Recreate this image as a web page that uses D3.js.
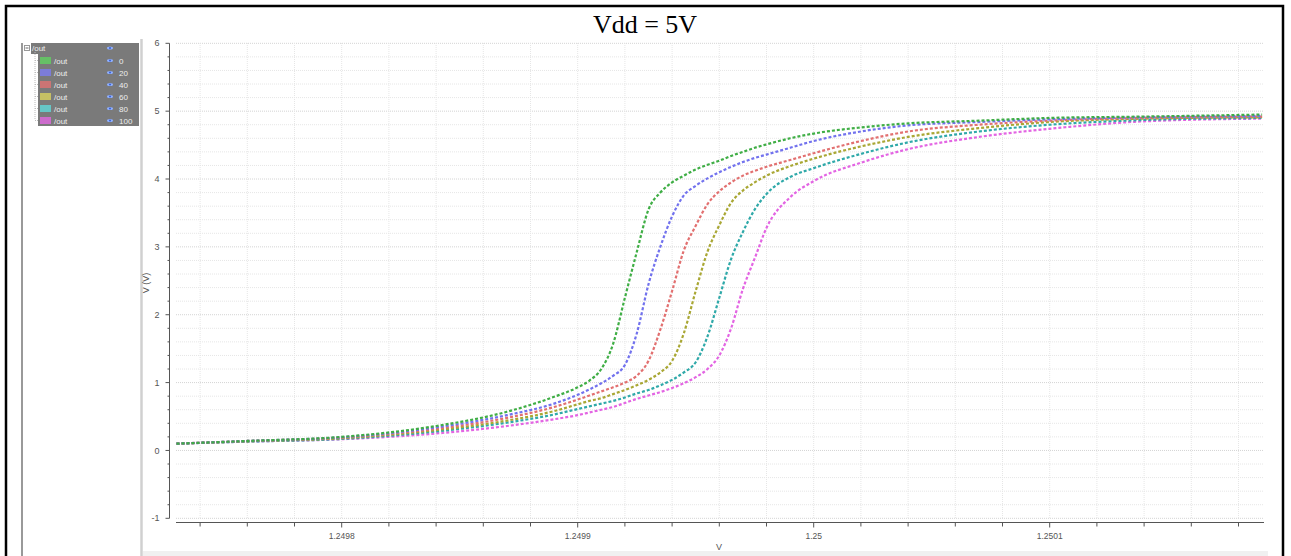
<!DOCTYPE html>
<html><head><meta charset="utf-8">
<script src="https://cdn.jsdelivr.net/npm/d3@7"></script>
<style>body{margin:0;background:#fff;}svg{display:block;}</style>
</head><body>
<svg id="c" width="1291" height="556"></svg>
<script>
// ---- data ----
const xVals = [1.24973,1.24976,1.24980,1.24984,1.24987,1.24989,1.24990,1.249905,1.24991,1.249915,1.24992,1.249925,1.24993,1.249935,1.24994,1.249945,1.24995,1.249955,1.24996,1.249965,1.24997,1.249975,1.24998,1.24999,1.25000,1.25002,1.25004,1.25007,1.25010,1.25014,1.25019];
const seriesNames = ["0","20","40","60","80","100"];
const out0   = [0.10,0.14,0.20,0.36,0.57,0.79,0.93,1.03,1.20,1.57,2.25,2.92,3.55,3.80,3.95,4.05,4.14,4.21,4.27,4.34,4.40,4.46,4.51,4.60,4.67,4.76,4.82,4.86,4.90,4.92,4.95];
const out20  = [0.10,0.14,0.195,0.34,0.52,0.69,0.82,0.90,0.99,1.10,1.26,1.72,2.45,3.00,3.45,3.76,3.90,4.01,4.10,4.18,4.25,4.31,4.36,4.46,4.56,4.70,4.79,4.84,4.88,4.91,4.93];
const out40  = [0.10,0.14,0.19,0.32,0.48,0.64,0.75,0.81,0.87,0.93,1.00,1.10,1.32,1.78,2.35,2.95,3.31,3.63,3.82,3.95,4.05,4.12,4.18,4.28,4.38,4.56,4.70,4.80,4.86,4.90,4.92];
const out60  = [0.10,0.135,0.18,0.30,0.44,0.58,0.68,0.73,0.77,0.83,0.89,0.96,1.04,1.15,1.32,1.73,2.35,2.93,3.32,3.65,3.83,3.95,4.05,4.19,4.30,4.48,4.62,4.75,4.84,4.89,4.91];
const out80  = [0.10,0.13,0.17,0.28,0.41,0.53,0.61,0.65,0.69,0.73,0.78,0.84,0.89,0.96,1.04,1.15,1.30,1.68,2.25,2.82,3.22,3.55,3.78,4.03,4.16,4.37,4.54,4.70,4.80,4.87,4.90];
const out100 = [0.10,0.13,0.165,0.25,0.36,0.46,0.52,0.56,0.60,0.64,0.70,0.76,0.81,0.86,0.92,0.99,1.08,1.20,1.40,1.80,2.38,2.83,3.28,3.73,3.97,4.24,4.44,4.62,4.74,4.85,4.89];
const seriesValues = [out0,out20,out40,out60,out80,out100];
const xMajorTicks = [1.2498,1.2499,1.25,1.2501];
const xTickLabels = ["1.2498","1.2499","1.25","1.2501"];
const yMajorTicks = [-1,0,1,2,3,4,5,6];
const yTickLabels = ["-1","0","1","2","3","4","5","6"];

// ---- styles ----
const lineColors = ["#3fae45","#7272ee","#e27070","#a9a734","#2fa9a9","#e365e3"];
const swatchColors = ["#66c066","#7c7cd8","#cc7474","#c6c064","#66c6c6","#cc6ccc"];

const svg = d3.select("#c");
const x = d3.scaleLinear().domain([1.24973,1.25019]).range([176.5,1262.1]);
const y = d3.scaleLinear().domain([-1,6]).range([518.3,43.3]);

// frame
svg.append("rect").attr("x",6).attr("y",6).attr("width",1277).attr("height",560)
  .attr("fill","none").attr("stroke","#000").attr("stroke-width",2.5);
// bottom strip
svg.append("rect").attr("x",143).attr("y",551).attr("width",1125).attr("height",6).attr("fill","#f0f0f0");
// left panel lines
svg.append("line").attr("x1",22).attr("x2",22).attr("y1",43).attr("y2",556).attr("stroke","#555").attr("stroke-width",1.2);
svg.append("line").attr("x1",141.5).attr("x2",141.5).attr("y1",39).attr("y2",556).attr("stroke","#d0d0d0").attr("stroke-width",2.5);

// title
svg.append("text").attr("x",645).attr("y",33).attr("text-anchor","middle")
  .attr("font-family","'Liberation Serif','Times New Roman',serif").attr("font-size",26).attr("fill","#000").text("Vdd = 5V");

// grid
const yMinor = d3.range(-1,6.0001,0.2).map(v=>+v.toFixed(2));
const xMinor = d3.range(1.24974,1.25019,0.00002).map(v=>+v.toFixed(6));
const grid = svg.append("g");
grid.selectAll(".hg").data(yMinor).join("line")
  .attr("x1",176).attr("x2",1264).attr("y1",d=>y(d)).attr("y2",d=>y(d))
  .attr("stroke",d=>Math.abs(d-Math.round(d))<1e-6?"#d4d4d4":"#e6e6e6").attr("stroke-width",1).attr("stroke-dasharray","1,1");
grid.selectAll(".vg").data(xMinor).join("line")
  .attr("x1",d=>x(d)).attr("x2",d=>x(d)).attr("y1",43).attr("y2",518)
  .attr("stroke","#e6e6e6").attr("stroke-width",1).attr("stroke-dasharray","1,1");

// y axis
const yAx = svg.append("g").attr("transform","translate(169.5,0)");
yAx.append("line").attr("x1",0).attr("x2",0).attr("y1",y(6)).attr("y2",y(-1)).attr("stroke","#555");
yAx.selectAll(".ymt").data(yMinor).join("line")
  .attr("x1",d=>Math.abs(d-Math.round(d))<1e-6?-4:-2).attr("x2",0).attr("y1",d=>y(d)).attr("y2",d=>y(d)).attr("stroke","#555");
yAx.selectAll(".ytl").data(yMajorTicks).join("text")
  .attr("x",-10).attr("y",d=>y(d)).attr("dy","0.35em").attr("text-anchor","end")
  .attr("font-family","'Liberation Sans',Arial,sans-serif").attr("font-size",9).attr("fill","#555")
  .text((d,i)=>yTickLabels[i]);
svg.append("text").attr("transform","translate(149,283) rotate(-90)").attr("text-anchor","middle")
  .attr("font-family","'Liberation Sans',Arial,sans-serif").attr("font-size",9).attr("fill","#555").text("V (V)");

// x axis
const xAx = svg.append("g").attr("transform","translate(0,522.5)");
xAx.append("line").attr("x1",176).attr("x2",1264).attr("y1",0).attr("y2",0).attr("stroke","#555");
xAx.selectAll(".xmt").data(xMinor).join("line")
  .attr("x1",d=>x(d)).attr("x2",d=>x(d)).attr("y1",0).attr("y2",d=>xMajorTicks.some(t=>Math.abs(t-d)<1e-7)?5:4).attr("stroke","#555");
xAx.selectAll(".xtl").data(xMajorTicks).join("text")
  .attr("x",d=>x(d)).attr("y",16).attr("text-anchor","middle")
  .attr("font-family","'Liberation Sans',Arial,sans-serif").attr("font-size",8.5).attr("fill","#555")
  .text((d,i)=>xTickLabels[i]);
svg.append("text").attr("x",719).attr("y",550).attr("text-anchor","middle")
  .attr("font-family","'Liberation Sans',Arial,sans-serif").attr("font-size",9).attr("fill","#555").text("V");

// curves
const line = d3.line().x(d=>x(d[0])).y(d=>y(d[1])).curve(d3.curveMonotoneX);
const plot = svg.append("g");
seriesValues.slice().reverse().forEach((vals,ri)=>{
  const i = seriesValues.length-1-ri;
  plot.append("path").datum(xVals.map((xv,k)=>[xv,vals[k]]))
    .attr("d",line).attr("fill","none").attr("stroke",lineColors[i])
    .attr("stroke-width",2.2).attr("stroke-dasharray","3,2");
});

// legend
const lg = svg.append("g");
lg.append("rect").attr("x",31).attr("y",43).attr("width",108).attr("height",11).attr("fill","#7a7a7a");
lg.append("rect").attr("x",38).attr("y",54).attr("width",101).attr("height",72).attr("fill","#7a7a7a");
// tree icon
lg.append("rect").attr("x",24.5).attr("y",45.5).attr("width",5).attr("height",5).attr("fill","#fff").attr("stroke","#999");
lg.append("line").attr("x1",25.5).attr("x2",28.5).attr("y1",48).attr("y2",48).attr("stroke","#666");
lg.append("line").attr("x1",35).attr("x2",35).attr("y1",52).attr("y2",120).attr("stroke","#bbb").attr("stroke-dasharray","1,1");
lg.append("text").attr("x",32).attr("y",51).attr("font-family","'Liberation Sans',Arial,sans-serif").attr("font-size",8).attr("fill","#eee").text("/out");
const eye = (g,cx,cy)=>{
  g.append("ellipse").attr("cx",cx).attr("cy",cy).attr("rx",3).attr("ry",1.5).attr("fill","#8fb0ff");
  g.append("circle").attr("cx",cx).attr("cy",cy).attr("r",1).attr("fill","#3a5fd0");
};
eye(lg,110,48);
seriesNames.forEach((n,i)=>{
  const cy = 60.5 + i*12;
  lg.append("line").attr("x1",35).attr("x2",39).attr("y1",cy).attr("y2",cy).attr("stroke","#bbb").attr("stroke-dasharray","1,1");
  lg.append("rect").attr("x",40).attr("y",cy-3.5).attr("width",11).attr("height",7).attr("fill",swatchColors[i]);
  lg.append("text").attr("x",54).attr("y",cy+3).attr("font-family","'Liberation Sans',Arial,sans-serif").attr("font-size",8).attr("fill","#eee").text("/out");
  eye(lg,110,cy);
  lg.append("text").attr("x",119).attr("y",cy+3).attr("font-family","'Liberation Sans',Arial,sans-serif").attr("font-size",8).attr("fill","#eee").text(n);
});
</script>
</body></html>
